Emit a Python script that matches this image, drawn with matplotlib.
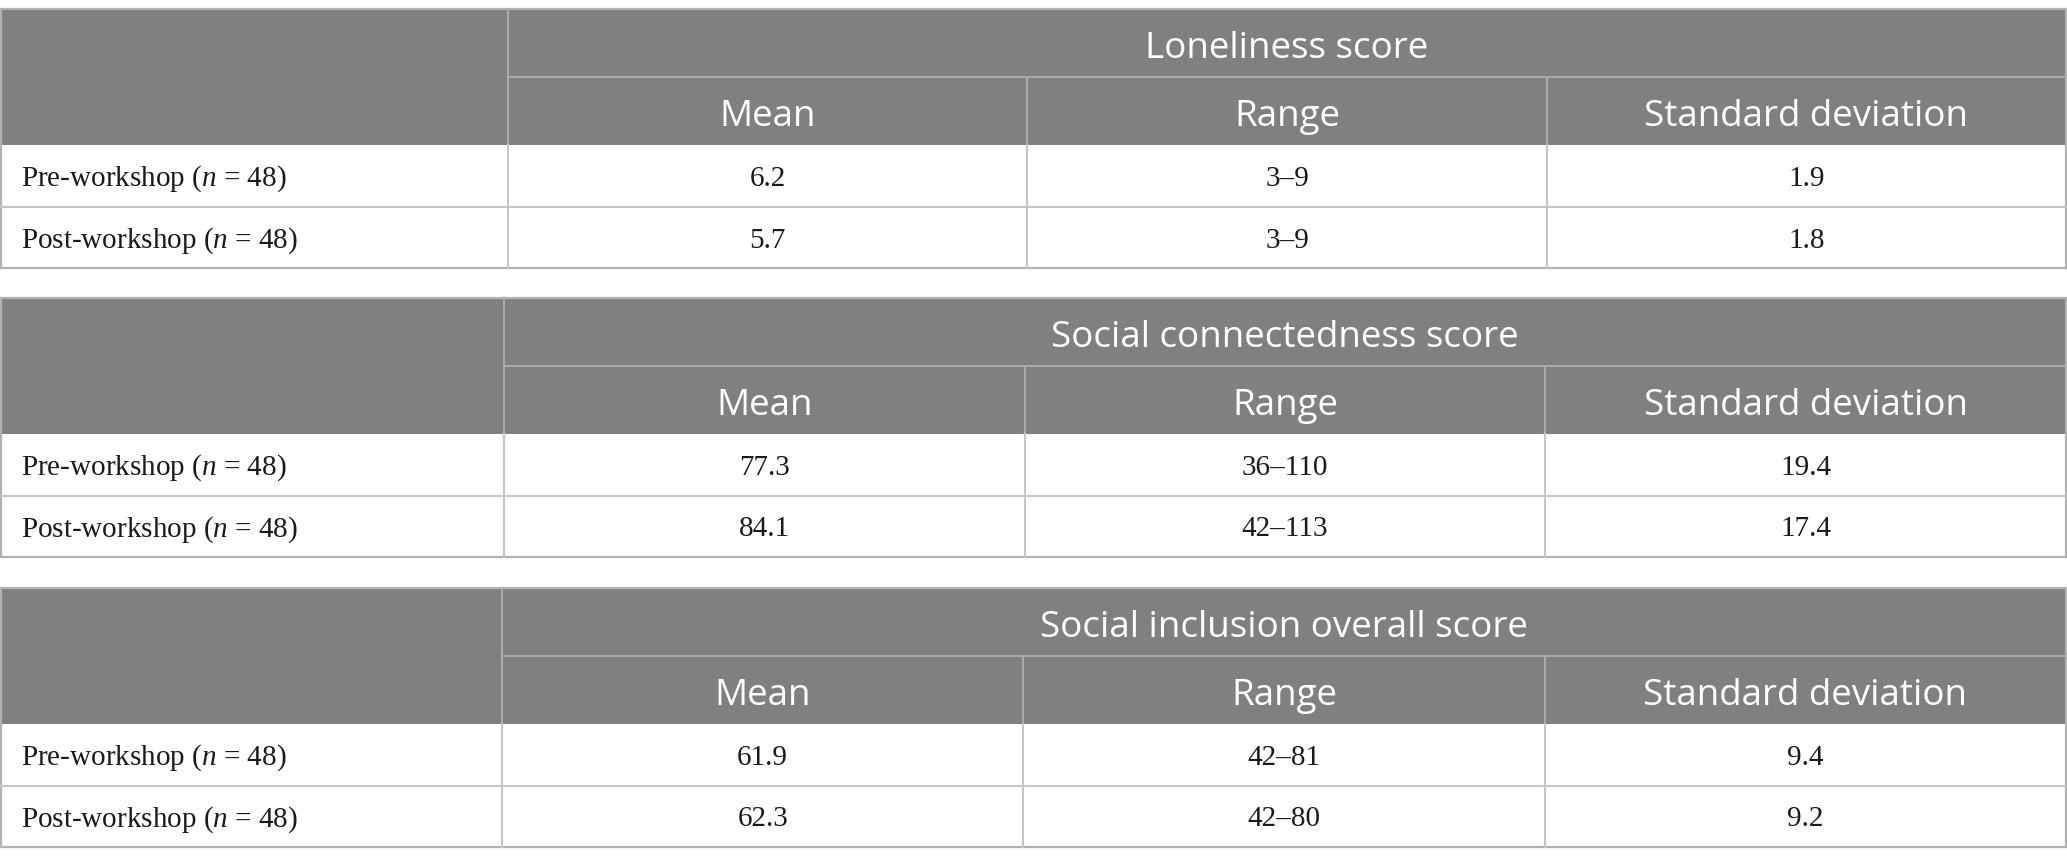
import matplotlib.pyplot as plt
from matplotlib.patches import Rectangle

plt.rcParams["mathtext.fontset"] = "custom"
plt.rcParams["mathtext.rm"] = "Liberation Serif"
plt.rcParams["mathtext.it"] = "Liberation Serif:italic"

# table content
titles = ["Loneliness score", "Social connectedness score", "Social inclusion overall score"]
columns = ["Mean", "Range", "Standard deviation"]
groups = ["Pre-workshop", "Post-workshop"]
n_sizes = [48, 48]

means = [["6.2", "5.7"], ["77.3", "84.1"], ["61.9", "62.3"]]
ranges = [["3\u20139", "3\u20139"], ["36\u2013110", "42\u2013113"], ["42\u201381", "42\u201380"]]
sds = [["1.9", "1.8"], ["19.4", "17.4"], ["9.4", "9.2"]]

# layout (pixels)
W, H = 2067, 866
table_tops = [9, 298, 588]
first_col = [508, 504, 502]
right = 2066
row_h = [68, 68, 62, 61]

head_bg = "#7f807f"
head_line = "#a9aaa9"
body_line = "#c6c6c6"
border = "#b2b2b2"

fig = plt.figure(figsize=(W / 100, H / 100), dpi=100)
ax = fig.add_axes([0, 0, 1, 1])
ax.set_xlim(0, W)
ax.set_ylim(H, 0)
ax.axis("off")

serif = "Liberation Serif"
sans = "Open Sans"

for t, top in enumerate(table_tops):
    y0 = top
    y1 = y0 + row_h[0]
    y2 = y1 + row_h[1]
    y3 = y2 + row_h[2]
    y4 = y3 + row_h[3]
    c0 = first_col[t]
    cw = (right - c0) / 3
    xs = [c0 + i * cw for i in range(4)]

    # header background
    ax.add_patch(Rectangle((1, y0), right - 1, y2 - y0, facecolor=head_bg, edgecolor="none"))
    # header lines
    ax.plot([c0, c0], [y0, y2], color=head_line, lw=1.5)
    ax.plot([c0, right], [y1, y1], color=head_line, lw=1.5)
    for x in xs[1:3]:
        ax.plot([x, x], [y1, y2], color=head_line, lw=1.5)
    # body lines
    ax.plot([1, right], [y3, y3], color=body_line, lw=1.5)
    for x in xs[:3]:
        ax.plot([x, x], [y2, y4], color=body_line, lw=1.5)
    # outer border
    ax.add_patch(Rectangle((1, y0), right - 1, y4 - y0, facecolor="none", edgecolor=border, lw=1.6))

    # header text
    ax.text((c0 + right) / 2, (y0 + y1) / 2 + 6, titles[t], color="white", fontsize=26.5,
            family=sans, ha="center", va="center")
    for i, c in enumerate(columns):
        ax.text(xs[i] + cw / 2, (y1 + y2) / 2 + 6, c, color="white", fontsize=26.5,
                family=sans, ha="center", va="center")

    # body rows
    rows = [(y2, y3), (y3, y4)]
    for r, (ra, rb) in enumerate(rows):
        yc = (ra + rb) / 2 + 3
        ax.text(21, yc, groups[r] + " ($\\it{n}$ = " + str(n_sizes[r]) + ")",
                fontsize=21, family=serif, ha="left", va="center", color="#1a1a1a")
        vals = [means[t][r], ranges[t][r], sds[t][r]]
        for i, v in enumerate(vals):
            ax.text(xs[i] + cw / 2, yc, v, fontsize=21, family=serif, ha="center",
                    va="center", color="#1a1a1a")

fig.savefig("out.png", dpi=100)
